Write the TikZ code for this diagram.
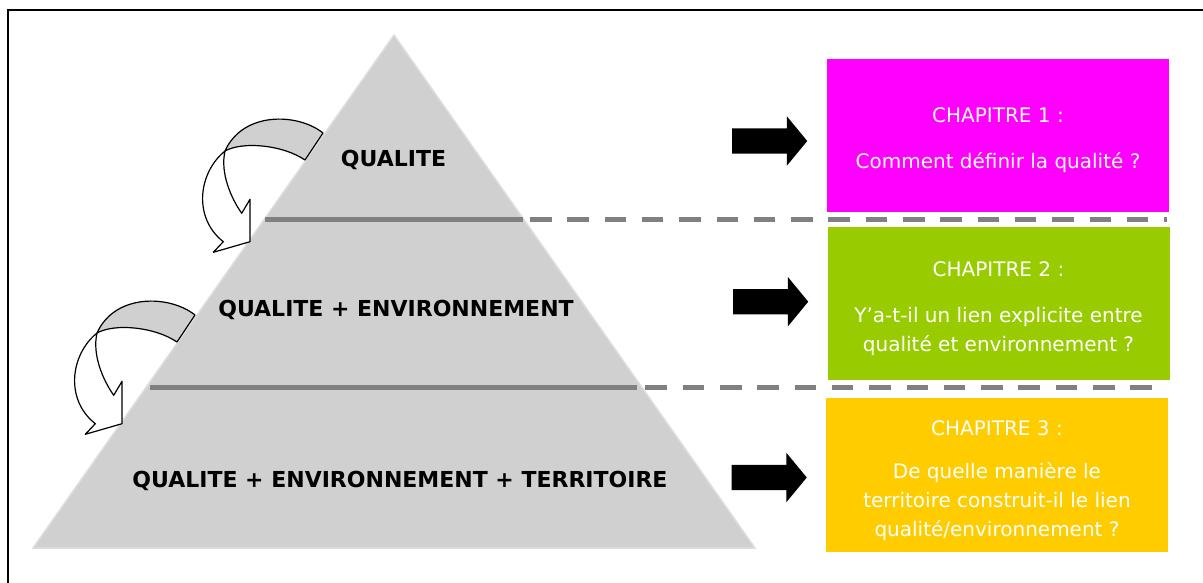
\documentclass[tikz,border=0pt]{standalone}
\usepackage{fontspec}
\setmainfont{DejaVu Sans}
\usetikzlibrary{shapes.arrows}

\definecolor{pyrgray}{RGB}{208,208,208}
\definecolor{pyredge}{RGB}{222,222,222}
\definecolor{linegray}{RGB}{128,128,128}
\definecolor{chapmag}{RGB}{255,0,255}
\definecolor{chapgreen}{RGB}{153,204,0}
\definecolor{chapyellow}{RGB}{255,204,0}

\tikzset{
  levellabel/.style={font=\fontsize{22}{26}\selectfont\bfseries},
  chapbox/.style={minimum width=342pt, minimum height=153pt, inner sep=0pt, text=white, align=center, font=\fontsize{20}{29}\selectfont},
  blockarrow/.style={single arrow, fill=black, inner xsep=0pt, inner ysep=12.5pt, minimum height=75pt, single arrow head extend=12pt, single arrow tip angle=101},
  twistarrow/.pic={
    \filldraw[fill=pyrgray, draw=black, line width=1.2pt, line join=round] (0,0) .. controls (-25,-20) and (-80,-22) .. (-98,18) .. controls (-80,8) and (-40,12) .. (-18,27) -- cycle;
    \filldraw[fill=white, draw=black, line width=1.2pt, line join=round] (-98,18) .. controls (-125,40) and (-130,85) .. (-99.7,108.7) -- (-109.7,119.3) -- (-73,108.7) -- (-73,66.3) -- (-81.3,80.3) .. controls (-92,65) and (-103,40) .. (-98,18) -- cycle;
  }
}

\begin{document}
\begin{tikzpicture}[x=1pt, y=-1pt]
\useasboundingbox (0,0) rectangle (1203,583);
\draw[line width=2pt] (1203,10) -- (8.3,10) -- (8.3,583);

% pyramide
\filldraw[fill=pyrgray, draw=pyredge, line width=1.5pt] (394,35) -- (755,548) -- (33,548) -- cycle;

\coordinate (lvlAl) at (265,219.5);
\coordinate (lvlAr) at (523,219.5);
\coordinate (lvlAd) at (530,219.5);
\coordinate (lvlAe) at (1167,219.5);
\coordinate (lvlBl) at (150,387.5);
\coordinate (lvlBr) at (637,387.5);
\coordinate (lvlBd) at (645.4,387.5);
\coordinate (lvlBe) at (1152,387.5);
\draw[linegray, line width=5.5pt] (lvlAl) -- (lvlAr);
\draw[linegray, line width=5.5pt] (lvlBl) -- (lvlBr);
\draw[linegray, line width=5.5pt, dash pattern=on 21.5pt off 15.8pt] (lvlAd) -- (lvlAe);
\draw[linegray, line width=5.5pt, dash pattern=on 21.5pt off 15.8pt] (lvlBd) -- (lvlBe);

\node[levellabel] (lvlone) at (393.5,160) {QUALITE};
\node[levellabel] (lvltwo) at (396,310) {QUALITE + ENVIRONNEMENT};
\node[levellabel] (lvlthree) at (400,481) {QUALITE + ENVIRONNEMENT + TERRITOIRE};

\pic at (323,133) {twistarrow};
\pic at (195,315) {twistarrow};

\node[blockarrow] (toA) at (764.5,141) {};
\node[blockarrow] (toB) at (765.5,301.7) {};
\node[blockarrow] (toC) at (764,477.5) {};

\node[chapbox, fill=chapmag] (chapA) at (998,135.5) {\rule{0pt}{25pt}CHAPITRE 1 :\\[17pt]Comment définir la qualité ?};
\node[chapbox, fill=chapgreen] (chapB) at (998.5,303.5) {\rule{0pt}{25pt}CHAPITRE 2 :\\[17pt]Y'a-t-il un lien explicite entre\\qualité et environnement ?};
\node[chapbox, fill=chapyellow, minimum height=154pt] (chapC) at (997,475) {\rule{0pt}{26pt}CHAPITRE 3 :\\[14pt]De quelle manière le\\territoire construit-il le lien\\qualité/environnement ?};
\end{tikzpicture}
\end{document}
